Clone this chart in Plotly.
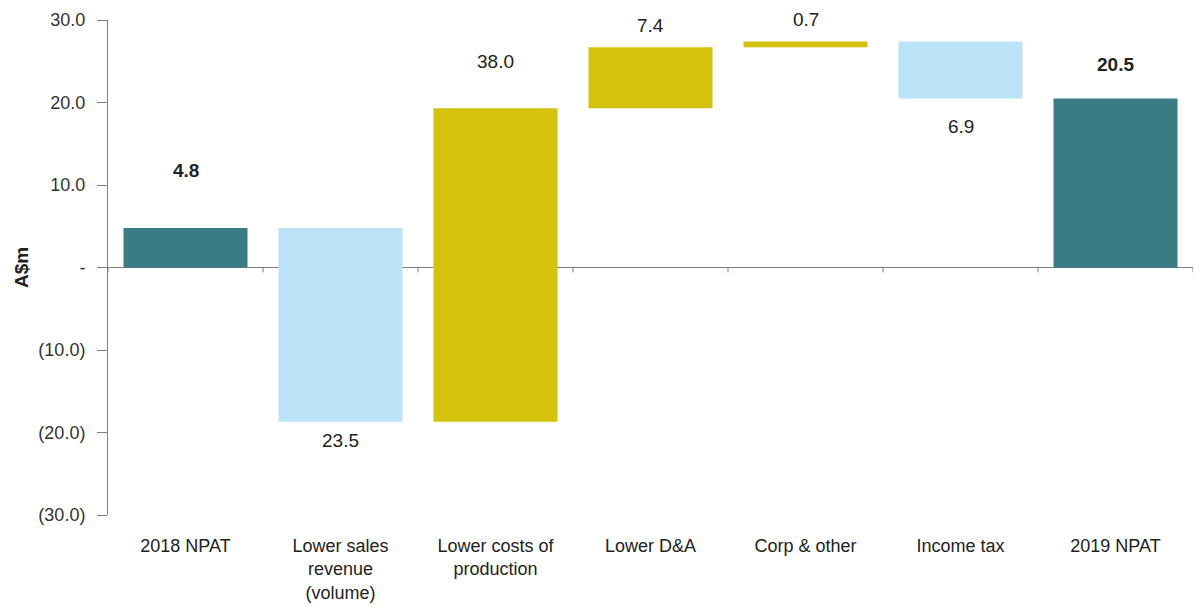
import plotly.graph_objects as go

categories = ["2018 NPAT", "Lower sales<br>revenue<br>(volume)", "Lower costs of<br>production",
              "Lower D&A", "Corp & other", "Income tax", "2019 NPAT"]
values = [4.8, -23.5, 38.0, 7.4, 0.7, -6.9, 20.5]
measures = ["absolute", "relative", "relative", "relative", "relative", "relative", "total"]
labels = ["4.8", "23.5", "38.0", "7.4", "0.7", "6.9", "20.5"]
label_bold = [True, False, False, False, False, False, True]
label_shift = [57, -19, 47, 22, 22, -28, 34]   # pixels offset from bar end

tick_vals = [30, 20, 10, 0, -10, -20, -30]
tick_text = ["30.0", "20.0", "10.0", "-", "(10.0)", "(20.0)", "(30.0)"]

TEAL = "#3B7B84"
LIGHT = "#BAE3F7"
GOLD = "#D4C20C"

fig = go.Figure(go.Waterfall(
    x=categories, y=values, measure=measures, width=0.8,
    increasing=dict(marker=dict(color=GOLD)),
    decreasing=dict(marker=dict(color=LIGHT)),
    totals=dict(marker=dict(color=TEAL)),
    connector=dict(visible=False),
    textposition="none", hoverinfo="x+y",
))

# compute bar ends for labels
cum = 0
for i, (v, m) in enumerate(zip(values, measures)):
    if m == "absolute":
        start, end = 0, v
        cum = v
    elif m == "total":
        start, end = 0, cum
    else:
        start, end = cum, cum + v
        cum = cum + v
    top = max(start, end)
    bot = min(start, end)
    yv = top if label_shift[i] > 0 else bot
    txt = f"<b>{labels[i]}</b>" if label_bold[i] else labels[i]
    fig.add_annotation(x=categories[i], y=yv, text=txt, showarrow=False,
                       yanchor="middle", yshift=label_shift[i],
                       font=dict(family="Liberation Sans, Arial", size=19, color="#222222"))

# tick marks on the zero line at category boundaries
for i in range(len(categories) + 1):
    fig.add_shape(type="line", xref="x", yref="y", x0=i - 0.5, x1=i - 0.5, y0=0, y1=-0.6,
                  line=dict(color="#808080", width=1))

fig.update_layout(
    width=1195, height=615,
    margin=dict(l=108, r=2, t=20, b=100),
    plot_bgcolor="white", paper_bgcolor="white",
    showlegend=False,
    font=dict(family="Liberation Sans, Arial", color="#333333"),
)
fig.update_xaxes(
    showgrid=False, showline=False, ticks="", zeroline=False,
    tickfont=dict(family="Liberation Sans, Arial", size=18, color="#222222"),
    ticklabelstandoff=18, range=[-0.5, len(categories) - 0.5],
)
fig.update_yaxes(
    range=[-30, 30], tickvals=tick_vals, ticktext=tick_text,
    showgrid=False, showline=True, linecolor="#808080", linewidth=1,
    ticks="outside", ticklen=10, tickcolor="#808080",
    zeroline=True, zerolinecolor="#808080", zerolinewidth=1,
    tickfont=dict(family="Liberation Sans, Arial", size=18, color="#333333"),
    ticklabelstandoff=8,
    title=dict(text="<b>A$m</b>", font=dict(family="Liberation Sans, Arial", size=19, color="#222222"), standoff=4),
)

fig.write_html("out.html")
